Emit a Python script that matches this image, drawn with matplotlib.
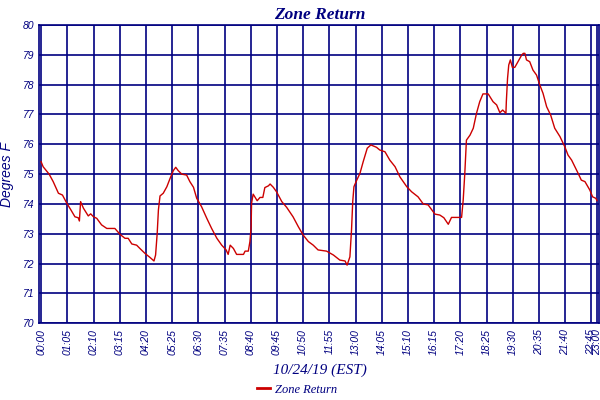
import matplotlib
matplotlib.use("Agg")
import matplotlib.pyplot as plt

# readings, minutes after midnight on 10/24/19
minutes = [0, 5, 20, 30, 43, 53, 64, 74, 84, 92, 95, 98, 105, 117, 123, 130,
           138, 150, 163, 183, 196, 208, 216, 225, 237, 245, 258, 270, 280,
           284, 288, 291, 295, 303, 312, 320, 328, 334, 340, 349, 361, 369,
           378, 386, 398, 411, 423, 436, 448, 459, 464, 469, 477, 485, 502,
           506, 514, 518, 521, 522, 526, 536, 543, 550, 555, 564, 568, 576,
           584, 597, 609, 625, 638, 650, 663, 675, 687, 708, 725, 741, 754,
           759, 766, 770, 773, 776, 783, 791, 799, 809, 818, 832, 840, 853,
           865, 878, 890, 907, 919, 935, 948, 960, 977, 989, 999, 1010, 1018,
           1043, 1047, 1051, 1055, 1064, 1072, 1080, 1088, 1096, 1109, 1121,
           1130, 1138, 1145, 1153, 1154, 1157, 1160, 1164, 1169, 1175, 1183,
           1192, 1196, 1200, 1204, 1212, 1220, 1229, 1237, 1245, 1254, 1264,
           1274, 1287, 1299, 1307, 1316, 1324, 1332, 1340, 1349, 1361, 1368,
           1376, 1379]
zone_return = [75.42, 75.25, 75.0, 74.75, 74.36, 74.3, 74.02, 73.8, 73.57,
               73.54, 73.43, 74.08, 73.86, 73.6, 73.67, 73.57, 73.52, 73.3,
               73.18, 73.18, 72.98, 72.85, 72.85, 72.66, 72.62, 72.51, 72.34,
               72.21, 72.09, 72.29, 73.02, 73.8, 74.27, 74.36, 74.58, 74.86,
               75.12, 75.23, 75.12, 75.0, 74.97, 74.75, 74.56, 74.19, 73.91,
               73.52, 73.18, 72.85, 72.62, 72.46, 72.31, 72.62, 72.51, 72.31,
               72.31, 72.42, 72.42, 72.74, 73.24, 74.02, 74.33, 74.11, 74.22,
               74.22, 74.55, 74.61, 74.67, 74.56, 74.41, 74.08, 73.89, 73.57,
               73.24, 72.96, 72.74, 72.62, 72.46, 72.42, 72.29, 72.12, 72.09,
               71.95, 72.23, 73.13, 74.08, 74.58, 74.8, 75.03, 75.42, 75.87,
               75.98, 75.9, 75.81, 75.75, 75.47, 75.25, 74.91, 74.58, 74.41,
               74.24, 74.0, 73.97, 73.66, 73.63, 73.54, 73.32, 73.55, 73.55,
               74.13, 75.03, 76.14, 76.31, 76.54, 77.04, 77.43, 77.69, 77.69,
               77.43, 77.32, 77.06, 77.15, 77.04, 77.43, 78.21, 78.66, 78.83,
               78.58, 78.58, 78.77, 78.99, 79.05, 79.05, 78.83, 78.77, 78.49,
               78.32, 77.99, 77.71, 77.26, 76.98, 76.54, 76.26, 75.92, 75.64,
               75.47, 75.25, 75.03, 74.8, 74.75, 74.47, 74.24, 74.19, 74.11]

tick_minutes = [0, 65, 130, 195, 260, 325, 390, 455, 520, 585, 650, 715, 780,
                845, 910, 975, 1040, 1105, 1170, 1235, 1300, 1365, 1380]
tick_labels = ["00:00", "01:05", "02:10", "03:15", "04:20", "05:25", "06:30",
               "07:35", "08:40", "09:45", "10:50", "11:55", "13:00", "14:05",
               "15:10", "16:15", "17:20", "18:25", "19:30", "20:35", "21:40",
               "22:45", "23:00"]
y_ticks = [70, 71, 72, 73, 74, 75, 76, 77, 78, 79, 80]

navy = "#000080"

fig = plt.figure(figsize=(6, 4), dpi=100)
ax = fig.add_axes([0.0658, 0.1917, 0.9333, 0.7458])

ax.plot(minutes, zone_return, color="#cc0000", lw=1.0, label="Zone Return")

ax.set_xlim(-4, 1385)
ax.set_ylim(70, 80)
ax.set_xticks(tick_minutes)
ax.set_xticklabels(tick_labels, rotation=90, fontsize=7.5, style="italic",
                   color=navy, family="Liberation Sans")
ax.set_yticks(y_ticks)
ax.set_yticklabels([str(v) for v in y_ticks], fontsize=7.5, style="italic",
                   color=navy, family="Liberation Sans")
ax.tick_params(length=0, pad=4)
ax.grid(True, color=navy, lw=1.2)
ax.set_axisbelow(True)
for sp in ax.spines.values():
    sp.set_color(navy)
    sp.set_linewidth(1.2)

ax.set_title("Zone Return", fontsize=12.5, fontweight="bold", style="italic",
             color=navy, family="Liberation Serif", pad=4)
ax.set_ylabel("Degrees F", fontsize=10, style="italic", color=navy,
              family="Liberation Sans", labelpad=6)
ax.set_xlabel("10/24/19 (EST)", fontsize=11, style="italic", color=navy,
              family="Liberation Serif", labelpad=6)

# legend sits a bit left of centre in the original
leg = ax.legend(loc="lower center", bbox_to_anchor=(0.46, -0.28),
                frameon=False, handlelength=1.0, handletextpad=0.4,
                prop={"family": "Liberation Serif", "style": "italic", "size": 9})
for t in leg.get_texts():
    t.set_color(navy)
for h in leg.legend_handles:
    h.set_linewidth(2)

fig.savefig("out.png", dpi=100)
